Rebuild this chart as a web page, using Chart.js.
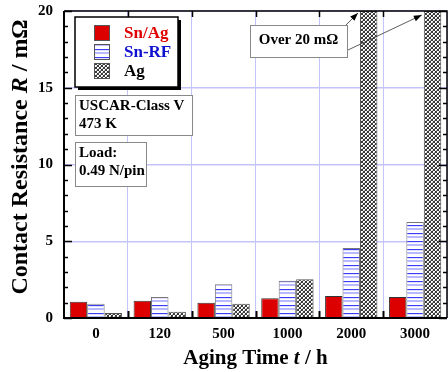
<!DOCTYPE html>
<html>
<head>
<meta charset="utf-8">
<script src="https://cdn.jsdelivr.net/npm/chart.js@4.4.1/dist/chart.umd.min.js"></script>
<style>
html,body{margin:0;padding:0;background:#fff;}
#wrap{width:448px;height:372px;position:relative;}
</style>
</head>
<body>
<div id="wrap"><canvas id="c" width="448" height="372"></canvas></div>
<script>
// ---- data ----
const categories = ['0', '120', '500', '1000', '2000', '3000'];
const seriesNames = ['Sn/Ag', 'Sn-RF', 'Ag'];
const snAg = [1.06, 1.13, 1.00, 1.28, 1.43, 1.37];
const snRF = [0.93, 1.37, 2.20, 2.43, 4.56, 6.25];
const ag   = [0.32, 0.41, 0.93, 2.52, 20, 20]; // 2000 h and 3000 h: over 20 mΩ (off scale)
const yTicks = [0, 5, 10, 15, 20];

const SERIF = '"Liberation Serif", "Times New Roman", serif';

function makePattern(w, h, draw) {
  const c = document.createElement('canvas');
  c.width = w; c.height = h;
  const g = c.getContext('2d');
  draw(g);
  return g.createPattern(c, 'repeat');
}
const stripe = makePattern(8, 8, g => {
  g.fillStyle = '#ffffff'; g.fillRect(0, 0, 8, 8);
  g.fillStyle = 'rgb(60,60,245)'; g.fillRect(0, 1, 8, 1);
  g.fillStyle = 'rgb(185,185,255)'; g.fillRect(0, 4, 8, 2);
  g.fillStyle = 'rgb(225,225,255)'; g.fillRect(0, 2, 8, 1);
});
const checker = makePattern(4, 4, g => {
  g.fillStyle = '#fff'; g.fillRect(0, 0, 4, 4);
  g.fillStyle = '#3a3a3a';
  for (let i = 0; i < 4; i++) { g.fillRect(i, i, 1, 1); g.fillRect(3 - i, i, 1, 1); }
  g.fillStyle = '#b8b8b8';
  g.fillRect(2, 0, 1, 1); g.fillRect(0, 2, 1, 1);
});

const fills = [ '#dd0000', stripe, checker ];
const textColors = ['#e00000', '#1010d0', '#000'];

const framePlugin = {
  id: 'frame',
  afterDraw(chart) {
    const { ctx, chartArea: a, scales } = chart;
    const y = scales.y;
    ctx.save();
    // frame
    ctx.strokeStyle = '#000';
    ctx.lineWidth = 2;
    ctx.beginPath();
    ctx.moveTo(a.left, a.top); ctx.lineTo(a.left, a.bottom); ctx.lineTo(a.right, a.bottom);
    ctx.stroke();
    ctx.lineWidth = 1.5;
    ctx.beginPath();
    ctx.moveTo(a.left, a.top); ctx.lineTo(a.right, a.top); ctx.lineTo(a.right, a.bottom);
    ctx.stroke();
    // y ticks (left + right, inward); minor every 1
    ctx.lineWidth = 1.3;
    for (let v = 0; v <= 20; v++) {
      const py = Math.round(y.getPixelForValue(v)) + 0.5;
      const len = v % 5 === 0 ? 8 : 4;
      ctx.beginPath();
      ctx.moveTo(a.left, py); ctx.lineTo(a.left + len, py);
      ctx.moveTo(a.right, py); ctx.lineTo(a.right - len, py);
      ctx.stroke();
    }
    // x ticks at category boundaries
    const n = categories.length;
    const cw = (a.right - a.left) / n;
    for (let i = 1; i < n; i++) {
      const px = Math.round(a.left + i * cw) + 0.5;
      ctx.lineWidth = 2;
      ctx.beginPath(); ctx.moveTo(px, a.bottom); ctx.lineTo(px, a.bottom - 7); ctx.stroke();
      ctx.lineWidth = 1.5;
      ctx.beginPath(); ctx.moveTo(px, a.top); ctx.lineTo(px, a.top + 6); ctx.stroke();
    }

    // axis titles
    ctx.fillStyle = '#000';
    ctx.textBaseline = 'alphabetic';
    function drawRich(parts, cx, cy, rot) {
      ctx.save();
      ctx.translate(cx, cy);
      ctx.rotate(rot);
      let total = 0;
      parts.forEach(p => { ctx.font = p.f; total += ctx.measureText(p.t).width; });
      let xx = -total / 2;
      parts.forEach(p => { ctx.font = p.f; ctx.fillText(p.t, xx, 0); xx += ctx.measureText(p.t).width; });
      ctx.restore();
    }
    const tf = 'bold 21px ' + SERIF, ti = 'italic bold 21px ' + SERIF;
    drawRich([{t:'Aging Time ', f:tf}, {t:'t', f:ti}, {t:' / h', f:tf}], (a.left + a.right) / 2, 364, 0);
    const yf = 'bold 24px ' + SERIF, yi = 'italic bold 24px ' + SERIF;
    drawRich([{t:'Contact Resistance ', f:yf}, {t:'R', f:yi}, {t:' / mΩ', f:yf}], 27, 157, -Math.PI / 2);

    // legend box
    const lx = 75, ly = 17, lw = 103, lh = 70;
    ctx.fillStyle = '#000';
    ctx.fillRect(lx + 3, ly + 3, lw, lh);
    ctx.fillStyle = '#fff';
    ctx.fillRect(lx, ly, lw, lh);
    ctx.strokeStyle = '#000'; ctx.lineWidth = 1.5;
    ctx.strokeRect(lx, ly, lw, lh);
    chart.data.datasets.forEach((ds, i) => {
      const sy = 25 + i * 19;
      ctx.fillStyle = ds.backgroundColor;
      ctx.fillRect(94, sy, 16, 16);
      ctx.strokeStyle = '#555'; ctx.lineWidth = 1;
      ctx.strokeRect(94.5, sy + 0.5, 15, 15);
      ctx.fillStyle = textColors[i];
      ctx.font = 'bold 17px ' + SERIF;
      ctx.textBaseline = 'middle';
      ctx.textAlign = 'left';
      ctx.fillText(ds.label, 124, sy + 9);
    });

    // info boxes
    function box(x0, y0, w, h, lines, fs, lineH) {
      ctx.fillStyle = '#fff';
      ctx.fillRect(x0, y0, w, h);
      ctx.strokeStyle = '#888'; ctx.lineWidth = 1;
      ctx.strokeRect(x0 + 0.5, y0 + 0.5, w, h);
      ctx.fillStyle = '#000';
      ctx.font = 'bold ' + fs + 'px ' + SERIF;
      ctx.textBaseline = 'middle'; ctx.textAlign = 'left';
      lines.forEach((l, k) => ctx.fillText(l, x0 + 4, y0 + 11 + k * lineH));
    }
    box(75, 95, 117, 40, ['USCAR-Class V', '473 K'], 15, 18);
    box(75, 142, 71, 44, ['Load:', '0.49 N/pin'], 15, 18);

    // Over 20 annotation
    ctx.fillStyle = '#fff';
    ctx.fillRect(250, 25, 97, 32);
    ctx.strokeStyle = '#888'; ctx.lineWidth = 1;
    ctx.strokeRect(250.5, 25.5, 97, 32);
    ctx.fillStyle = '#000';
    ctx.font = 'bold 15px ' + SERIF;
    ctx.textBaseline = 'middle'; ctx.textAlign = 'center';
    ctx.fillText('Over 20 mΩ', 298.5, 40);
    // arrows toward the off-scale bars
    const meta = chart.getDatasetMeta(2);
    function arrow(x1, y1, x2, y2) {
      ctx.strokeStyle = '#333'; ctx.lineWidth = 0.8;
      ctx.beginPath(); ctx.moveTo(x1, y1); ctx.lineTo(x2, y2); ctx.stroke();
      const ang = Math.atan2(y2 - y1, x2 - x1);
      const L = 8, W = 3;
      ctx.fillStyle = '#000';
      ctx.beginPath();
      ctx.moveTo(x2, y2);
      ctx.lineTo(x2 - L * Math.cos(ang) + W * Math.sin(ang), y2 - L * Math.sin(ang) - W * Math.cos(ang));
      ctx.lineTo(x2 - L * Math.cos(ang) - W * Math.sin(ang), y2 - L * Math.sin(ang) + W * Math.cos(ang));
      ctx.closePath(); ctx.fill();
    }
    const b4 = meta.data[4], b5 = meta.data[5];
    arrow(346, 25, b4.x - b4.width / 2 - 2, a.top + 2);
    arrow(348, 50, b5.x - b5.width / 2 - 2, a.top + 4);
    ctx.restore();
  }
};

new Chart(document.getElementById('c'), {
  type: 'bar',
  data: {
    labels: categories,
    datasets: [
      { label: seriesNames[0], data: snAg, backgroundColor: fills[0], borderColor: '#333', borderWidth: 1 },
      { label: seriesNames[1], data: snRF, backgroundColor: fills[1], borderColor: '#777', borderWidth: 1 },
      { label: seriesNames[2], data: ag, backgroundColor: fills[2], borderColor: '#555', borderWidth: 1 }
    ]
  },
  options: {
    responsive: false,
    animation: false,
    devicePixelRatio: 1,
    layout: { padding: { left: 0, right: 1, top: 11, bottom: 0 } },
    datasets: { bar: { categoryPercentage: 0.82, barPercentage: 1.0 } },
    plugins: { legend: { display: false }, tooltip: { enabled: false } },
    scales: {
      x: {
        grid: { display: true, offset: true, color: '#c4c4fa', lineWidth: 1, drawTicks: false },
        border: { display: false },
        ticks: { color: '#000', font: { family: SERIF, size: 15, weight: 'bold' }, padding: 7 },
        afterFit(s) { s.height = 54; s.paddingLeft = 0; s.paddingRight = 0; }
      },
      y: {
        min: 0, max: 20,
        afterBuildTicks(s) { s.ticks = yTicks.map(v => ({ value: v })); },
        grid: { display: true, color: '#c4c4fa', lineWidth: 1.5, drawTicks: false },
        border: { display: false },
        ticks: { color: '#000', font: { family: SERIF, size: 15, weight: 'bold' }, padding: 11 },
        afterFit(s) { s.width = 64; s.paddingTop = 0; s.paddingBottom = 0; }
      }
    }
  },
  plugins: [framePlugin]
});
</script>
</body>
</html>
